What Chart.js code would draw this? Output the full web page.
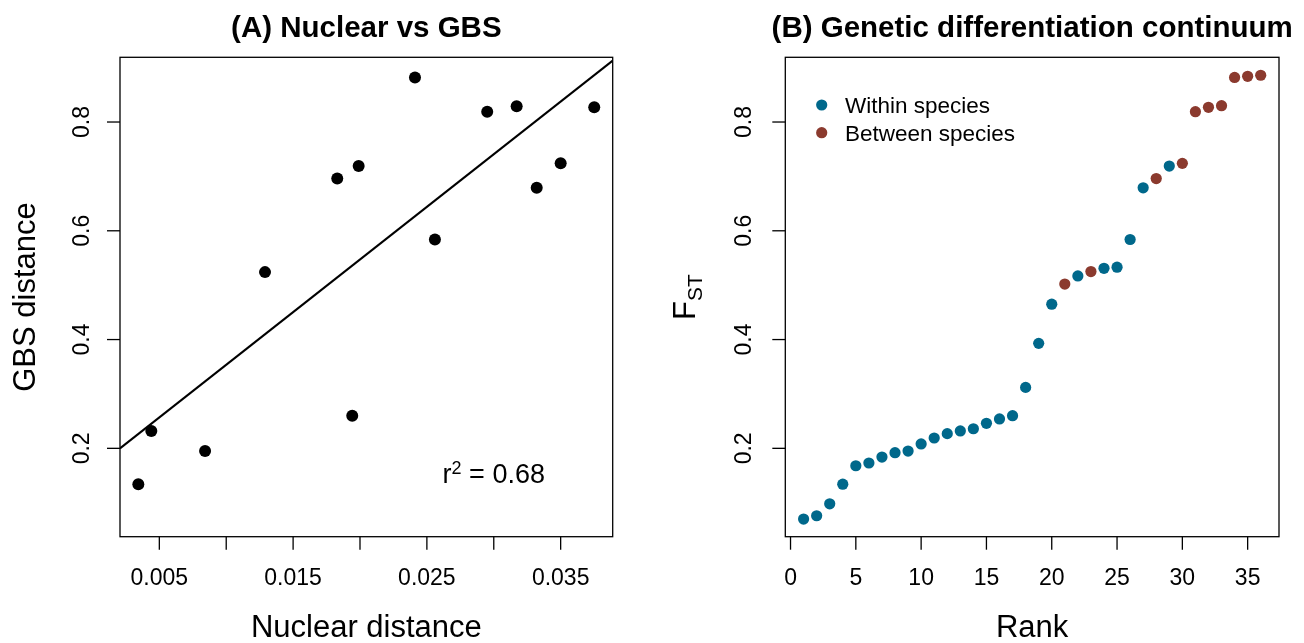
<!DOCTYPE html>
<html>
<head>
<meta charset="utf-8">
<script src="https://cdn.jsdelivr.net/npm/chart.js@4.4.1/dist/chart.umd.min.js"></script>
<style>
  body { margin: 0; background: #fff; }
  #wrap { width: 1304px; height: 643px; position: relative; }
  canvas { position: absolute; top: 0; }
  #chartA { left: 0; }
  #chartB { left: 652px; }
</style>
</head>
<body>
<div id="wrap">
  <canvas id="chartA" width="652" height="643"></canvas>
  <canvas id="chartB" width="652" height="643"></canvas>
</div>
<script>
// ---- panel A data (nuclear vs GBS distance) ----
const nuclearDist = [0.00343, 0.0044, 0.00842, 0.0129, 0.0183, 0.01942, 0.0199, 0.02411, 0.0256, 0.02951, 0.03171, 0.03321, 0.0350, 0.03751];
const gbsDist     = [0.134, 0.232, 0.195, 0.524, 0.696, 0.260, 0.719, 0.882, 0.584, 0.819, 0.829, 0.679, 0.724, 0.827];
const fitIntercept = 0.160;
const fitSlope = 19.36;
const rSquared = "0.68";
const xTicksA = [0.005, 0.010, 0.015, 0.020, 0.025, 0.030, 0.035];
const xTickLabelsA = ["0.005", "", "0.015", "", "0.025", "", "0.035"];
const yTicks = [0.2, 0.4, 0.6, 0.8];
const yTickLabels = ["0.2", "0.4", "0.6", "0.8"];

// ---- panel B data (FST continuum) ----
const ranks = [];
for (let i = 1; i <= 36; i++) ranks.push(i);
const fstValues = [0.070, 0.076, 0.098, 0.134, 0.168, 0.173, 0.184, 0.192, 0.195, 0.208,
                   0.219, 0.227, 0.232, 0.236, 0.246, 0.254, 0.260, 0.312, 0.393, 0.465,
                   0.502, 0.517, 0.525, 0.531, 0.533, 0.584, 0.679, 0.696, 0.719, 0.724,
                   0.819, 0.827, 0.830, 0.882, 0.884, 0.886];
const comparison = ["W","W","W","W","W","W","W","W","W","W",
                    "W","W","W","W","W","W","W","W","W","W",
                    "B","W","B","W","W","W","W","B","W","B",
                    "B","B","B","B","B","B"];
const groupNames = ["Within species", "Between species"];
const groupColors = ["#00688B", "#8B3A2E"];
const xTicksB = [0, 5, 10, 15, 20, 25, 30, 35];
const xTickLabelsB = ["0", "5", "10", "15", "20", "25", "30", "35"];

const FONT = '"Liberation Sans", Arial, Helvetica, sans-serif';

function rotText(ctx, txt, x, y, align){
    ctx.save();
    ctx.translate(x, y);
    ctx.rotate(-Math.PI/2);
    ctx.textAlign = align || "center";
    ctx.fillText(txt, 0, 0);
    ctx.restore();
}

// draws the R-style box, ticks and labels from the chart's scales
function axesPlugin(opt){
    return {
        id: "rAxes",
        afterDraw(chart){
            const ctx = chart.ctx;
            const a = chart.chartArea;
            const xs = chart.scales.x, ys = chart.scales.y;
            ctx.save();
            ctx.strokeStyle = "#000";
            ctx.fillStyle = "#000";
            ctx.lineWidth = 1.3;
            ctx.strokeRect(a.left, a.top, a.right - a.left, a.bottom - a.top);

            ctx.font = "23px " + FONT;
            ctx.textBaseline = "alphabetic";
            ctx.textAlign = "center";
            opt.xTicks.forEach((v, i) => {
                const px = xs.getPixelForValue(v);
                ctx.beginPath();
                ctx.moveTo(px, a.bottom);
                ctx.lineTo(px, a.bottom + 13);
                ctx.stroke();
                if (opt.xLabels[i] !== "") ctx.fillText(opt.xLabels[i], px, 585);
            });
            opt.yTicks.forEach((v, i) => {
                const py = ys.getPixelForValue(v);
                ctx.beginPath();
                ctx.moveTo(a.left, py);
                ctx.lineTo(a.left - 13, py);
                ctx.stroke();
                rotText(ctx, opt.yLabels[i], opt.yLabelX, py);
            });

            const cx = (a.left + a.right) / 2;
            const cy = (a.top + a.bottom) / 2;
            ctx.font = "bold 29.5px " + FONT;
            ctx.textAlign = "center";
            ctx.fillText(opt.title, cx, 37);

            ctx.font = "31px " + FONT;
            ctx.fillText(opt.xTitle, cx, 637);
            opt.drawYTitle(ctx, cy);
            if (opt.extra) opt.extra(chart, ctx);
            ctx.restore();
        }
    };
}

// ---------- panel A ----------
const pointsA = nuclearDist.map((x, i) => ({x: x, y: gbsDist[i]}));
const xMinA = 0.00206, xMaxA = 0.03889;
const yMin = 0.0375, yMax = 0.919;
const fitLine = [xMinA, xMaxA].map(x => ({x: x, y: fitIntercept + fitSlope * x}));

new Chart(document.getElementById("chartA"), {
    type: "scatter",
    data: {
        datasets: [{
            data: pointsA,
            pointRadius: 6,
            pointBorderWidth: 0,
            backgroundColor: "#000",
            borderColor: "#000"
        }, {
            data: fitLine,
            showLine: true,
            pointRadius: 0,
            borderColor: "#000",
            borderWidth: 2
        }]
    },
    options: {
        responsive: false,
        animation: false,
        layout: { padding: { left: 120, right: 39.3, top: 57.3, bottom: 106.3 } },
        plugins: { legend: { display: false }, tooltip: { enabled: false } },
        scales: {
            x: { type: "linear", display: false, min: xMinA, max: xMaxA },
            y: { type: "linear", display: false, min: yMin, max: yMax }
        }
    },
    plugins: [axesPlugin({
        title: "(A) Nuclear vs GBS",
        xTitle: "Nuclear distance",
        xTicks: xTicksA, xLabels: xTickLabelsA,
        yTicks: yTicks, yLabels: yTickLabels,
        yLabelX: 89,
        drawYTitle(ctx, cy){
            ctx.font = "31px " + FONT;
            rotText(ctx, "GBS distance", 35, cy);
        },
        extra(chart, ctx){
            // r^2 annotation
            const px = chart.scales.x.getPixelForValue(0.0300);
            const py = chart.scales.y.getPixelForValue(0.155);
            const big = "27px " + FONT, small = "18px " + FONT;
            ctx.font = big;  const wr = ctx.measureText("r").width;
            const rest = " = " + rSquared; const wrest = ctx.measureText(rest).width;
            ctx.font = small; const w2 = ctx.measureText("2").width;
            let x0 = px - (wr + w2 + wrest) / 2;
            const base = py + 10;
            ctx.textAlign = "left";
            ctx.font = big;   ctx.fillText("r", x0, base);
            ctx.font = small; ctx.fillText("2", x0 + wr, base - 9);
            ctx.font = big;   ctx.fillText(rest, x0 + wr + w2, base);
        }
    })]
});

// ---------- panel B ----------
const datasetsB = groupNames.map((name, g) => {
    const code = g === 0 ? "W" : "B";
    const pts = [];
    ranks.forEach((r, i) => { if (comparison[i] === code) pts.push({x: r, y: fstValues[i]}); });
    return {
        label: name,
        data: pts,
        pointRadius: 5.6,
        pointBorderWidth: 0,
        backgroundColor: groupColors[g],
        borderColor: groupColors[g]
    };
});

new Chart(document.getElementById("chartB"), {
    type: "scatter",
    data: { datasets: datasetsB },
    options: {
        responsive: false,
        animation: false,
        layout: { padding: { left: 133.3, right: 25, top: 57.3, bottom: 106.3 } },
        plugins: { legend: { display: false }, tooltip: { enabled: false } },
        scales: {
            x: { type: "linear", display: false, min: -0.4, max: 37.4 },
            y: { type: "linear", display: false, min: yMin, max: yMax }
        }
    },
    plugins: [axesPlugin({
        title: "(B) Genetic differentiation continuum",
        xTitle: "Rank",
        xTicks: xTicksB, xLabels: xTickLabelsB,
        yTicks: yTicks, yLabels: yTickLabels,
        yLabelX: 99,
        drawYTitle(ctx, cy){
            const big = "31px " + FONT, small = "21px " + FONT;
            ctx.font = big;   const wF = ctx.measureText("F").width;
            ctx.font = small; const wS = ctx.measureText("ST").width;
            const start = cy + (wF + wS) / 2;
            ctx.save();
            ctx.translate(43, start);
            ctx.rotate(-Math.PI/2);
            ctx.textAlign = "left";
            ctx.font = big;   ctx.fillText("F", 0, 0);
            ctx.font = small; ctx.fillText("ST", wF, 7);
            ctx.restore();
        },
        extra(chart, ctx){
            // legend, top left inside the box
            ctx.font = "22.5px " + FONT;
            ctx.textAlign = "left";
            chart.data.datasets.forEach((ds, i) => {
                const y = 105 + i * 27.7;
                ctx.fillStyle = ds.backgroundColor;
                ctx.beginPath();
                ctx.arc(169.7, y, 5.6, 0, Math.PI * 2);
                ctx.fill();
                ctx.fillStyle = "#000";
                ctx.fillText(ds.label, 193, y + 8);
            });
        }
    })]
});
</script>
</body>
</html>
